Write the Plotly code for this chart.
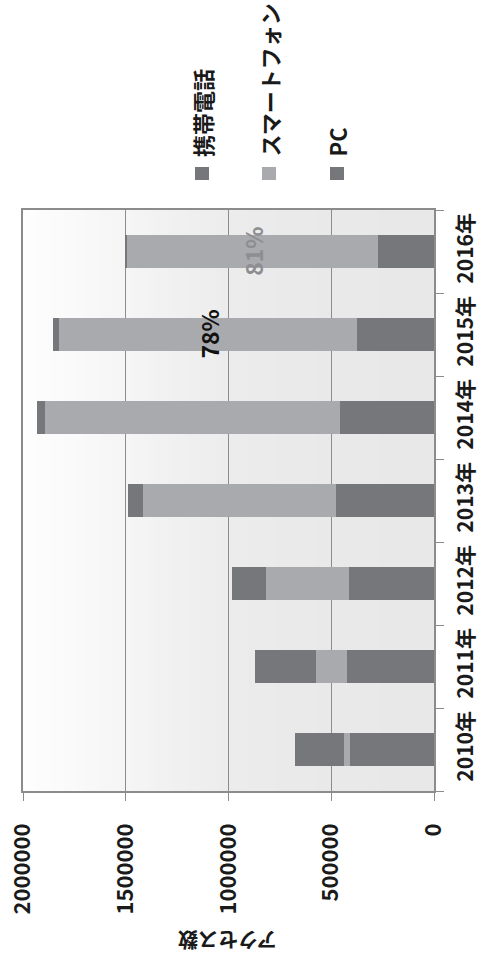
import plotly.graph_objects as go

# ---------------- data ----------------
years = ["2010年", "2011年", "2012年", "2013年", "2014年", "2015年", "2016年"]
pc = [410000, 423000, 413000, 476000, 459000, 376000, 274000]
smartphone = [30000, 149000, 404000, 939000, 1433000, 1447000, 1220000]
feature_phone = [237000, 297000, 167000, 76000, 42000, 33000, 12000]
share_labels = ["", "", "", "", "", "78%", "81%"]
series_names = ["携帯電話", "スマートフォン", "PC"]
value_ticks = [0, 500000, 1000000, 1500000, 2000000]
axis_title = "アクセス数"

# ---------------- style ----------------
W, H = 489, 960
L, R, T, B = 23, 55, 210, 169
PW, PH = W - L - R, H - T - B
FONT = "Noto Sans CJK JP"
DARK = "#76777b"
LIGHT = "#a9aaad"
GRID = "#8c8c8c"
label_colors = {"78%": "#111111", "81%": "#8d8e91"}


def px_x(px):
    return (px - L) / PW


def px_y(py):
    return (H - B - py) / PH


fig = go.Figure()
fig.add_trace(go.Bar(name=series_names[2], y=years, x=pc, orientation="h",
                     marker=dict(color=DARK, line=dict(width=0)), showlegend=False))
fig.add_trace(go.Bar(name=series_names[1], y=years, x=smartphone, orientation="h",
                     marker=dict(color=LIGHT, line=dict(width=0)), showlegend=False))
fig.add_trace(go.Bar(name=series_names[0], y=years, x=feature_phone, orientation="h",
                     marker=dict(color=DARK, line=dict(width=0)), showlegend=False))

annotations = []
# share labels centred on the smartphone segment
for yr, p, s, lab in zip(years, pc, smartphone, share_labels):
    if lab:
        annotations.append(dict(
            x=p + s / 2, y=yr, xref="x", yref="y", text=lab, showarrow=False,
            textangle=-90, xanchor="center", yanchor="middle",
            font=dict(family=FONT, size=23, color=label_colors.get(lab, "#111"), weight="bold")))

# manual rotated legend
legend_colors = [DARK, LIGHT, DARK]
legend_x = [202, 269, 337]
shapes = []
for name, col, cx in zip(series_names, legend_colors, legend_x):
    shapes.append(dict(type="rect", xref="paper", yref="paper",
                       x0=px_x(cx - 7), x1=px_x(cx + 7), y0=px_y(180), y1=px_y(167),
                       fillcolor=col, line=dict(width=0)))
    annotations.append(dict(x=px_x(cx), y=px_y(159), xref="paper", yref="paper",
                            text=name, showarrow=False, textangle=-90,
                            xanchor="center", yanchor="bottom",
                            font=dict(family=FONT, size=22, color="#1a1a1a", weight="bold")))

# axis title (upside down)
annotations.append(dict(x=px_x(228), y=px_y(941), xref="paper", yref="paper",
                        text=axis_title, showarrow=False, textangle=180,
                        xanchor="center", yanchor="middle",
                        font=dict(family=FONT, size=20, color="#1a1a1a", weight="bold")))

# plot background gradient (white on the left to light grey)
stops = [(0.0, 254), (0.25, 245), (0.5, 236), (0.75, 233), (1.0, 232)]
N = 60
for i in range(N):
    f0, f1 = i / N, (i + 1) / N
    fm = (f0 + f1) / 2
    for (a, va), (b, vb) in zip(stops[:-1], stops[1:]):
        if a <= fm <= b:
            v = round(va + (vb - va) * (fm - a) / (b - a))
            break
    shapes.append(dict(type="rect", xref="x domain", yref="y domain",
                       x0=f0, x1=f1 + 0.002, y0=0, y1=1, layer="below",
                       fillcolor=f"rgb({v},{v},{v})", line=dict(width=0)))

fig.update_layout(
    width=W, height=H,
    margin=dict(l=L, r=R, t=T, b=B, pad=0, autoexpand=False),
    barmode="stack", bargap=0.6,
    paper_bgcolor="white", plot_bgcolor="#e9e9ea",
    font=dict(family=FONT, color="#1a1a1a"),
    annotations=annotations, shapes=shapes,
    showlegend=False,
)
fig.update_xaxes(
    range=[value_ticks[-1], value_ticks[0]], tickvals=value_ticks, tickformat="d",
    tickangle=-90, side="bottom", automargin=False,
    showgrid=True, gridcolor=GRID, gridwidth=1,
    showline=True, linecolor=GRID, linewidth=1.5, mirror=True,
    ticks="outside", ticklen=8, tickcolor=GRID, tickwidth=1,
    ticklabelstandoff=14,
    tickfont=dict(family=FONT, size=22, color="#1a1a1a", weight="bold"),
    zeroline=False,
)
fig.update_yaxes(
    type="category", categoryorder="array", categoryarray=years,
    side="right", tickangle=-90, tickson="boundaries", automargin=False,
    showgrid=False,
    showline=True, linecolor=GRID, linewidth=1.5, mirror=True,
    ticks="outside", ticklen=8, tickcolor=GRID, tickwidth=1,
    ticklabelstandoff=12,
    tickfont=dict(family=FONT, size=21, color="#1a1a1a", weight="bold"),
)

fig.write_html("out.html")
